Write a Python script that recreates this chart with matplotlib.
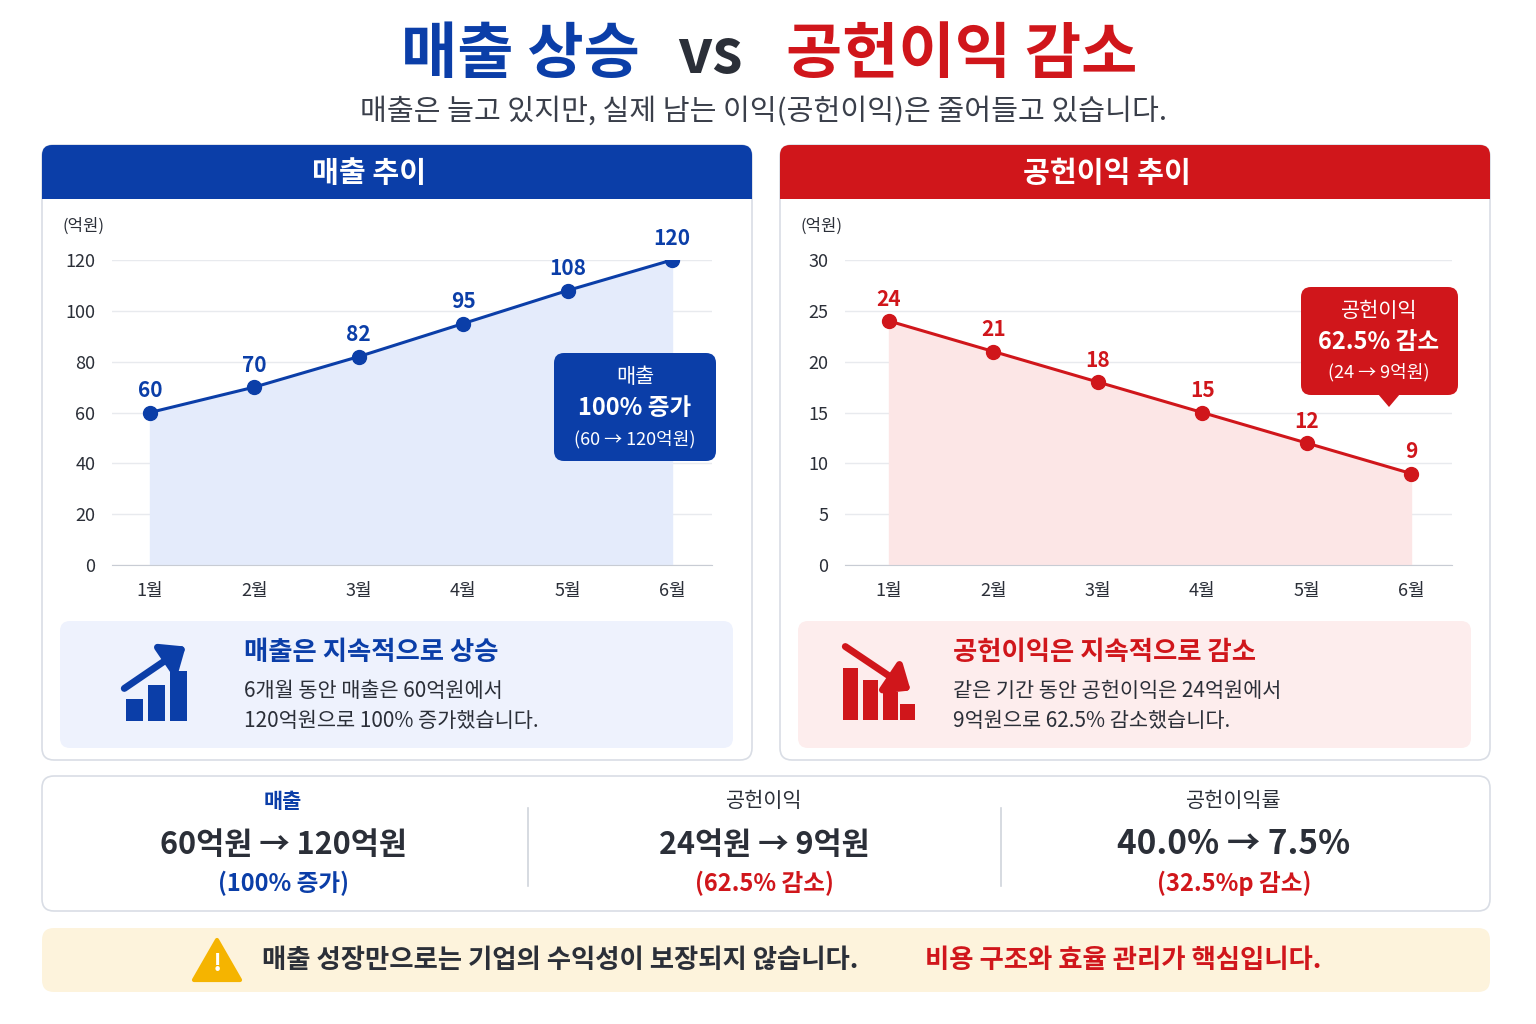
import matplotlib.pyplot as plt
from matplotlib.patches import FancyBboxPatch, Rectangle, Polygon, FancyArrowPatch

plt.rcParams['font.family'] = ['Noto Sans CJK KR', 'DejaVu Sans']

months = ['1월', '2월', '3월', '4월', '5월', '6월']
sales = [60, 70, 82, 95, 108, 120]
profit = [24, 21, 18, 15, 12, 9]
sales_ticks = [0, 20, 40, 60, 80, 100, 120]
profit_ticks = [0, 5, 10, 15, 20, 25, 30]

BLUE = '#0B3EA8'
RED = '#D0161B'
DARK = '#2B2F38'

W, H = 1536, 1024
fig = plt.figure(figsize=(15.36, 10.24), dpi=100)


def overlay():
    a = fig.add_axes([0, 0, 1, 1])
    a.set_xlim(0, W)
    a.set_ylim(H, 0)
    a.axis('off')
    a.patch.set_alpha(0)
    return a


bg = overlay()


def rbox(ax, x, y, w, h, fc, ec='none', r=12, lw=1.2, z=1):
    ax.add_patch(FancyBboxPatch((x, y), w, h, boxstyle=f"round,pad=0,rounding_size={r}",
                                fc=fc, ec=ec, lw=lw, zorder=z))


# title
bg.text(520, 55, '매출 상승', color=BLUE, fontsize=44, fontweight='bold', ha='center', va='center')
bg.text(710, 55, 'vs', color=DARK, fontsize=44, fontweight='bold', ha='center', va='center')
bg.text(962, 55, '공헌이익 감소', color=RED, fontsize=44, fontweight='bold', ha='center', va='center')
bg.text(764, 112, '매출은 늘고 있지만, 실제 남는 이익(공헌이익)은 줄어들고 있습니다.',
        color='#3a3f4a', fontsize=21, ha='center', va='center')

# panels
for x0, col, title in [(42, BLUE, '매출 추이'), (780, RED, '공헌이익 추이')]:
    rbox(bg, x0, 145, 710, 615, 'white', '#d9dde5', r=12)
    rbox(bg, x0, 145, 710, 54, col, r=10, z=2)
    bg.add_patch(Rectangle((x0, 180), 710, 19, fc=col, ec='none', zorder=2))
    bg.text(x0 + 327, 173, title, color='white', fontsize=21, fontweight='bold', ha='center', va='center', zorder=3)
    bg.text(x0 + 20, 226, '(억원)', color=DARK, fontsize=12, va='center')


def chart(left_px, right_px, first_px, data, ticks, col, fill):
    ax = fig.add_axes([left_px / W, 1 - 565 / H, (right_px - left_px) / W, 305 / H])
    x = list(range(1, 7))
    step = 104.4
    ax.set_xlim(1 - (first_px - left_px) / step, 1 + (right_px - first_px) / step)
    ax.set_ylim(0, ticks[-1])
    ax.fill_between(x, data, color=fill, zorder=1)
    ax.plot(x, data, color=col, lw=2.2, marker='o', ms=10, zorder=3)
    for xi, v in zip(x, data):
        ax.annotate(str(v), (xi, v), xytext=(0, 8), textcoords='offset points',
                    ha='center', va='bottom', color=col, fontsize=15, fontweight='bold')
    ax.set_yticks(ticks)
    ax.set_xticks(x)
    ax.set_xticklabels(months)
    ax.grid(axis='y', color='#e8eaee', lw=1)
    ax.set_axisbelow(True)
    for s in ['top', 'right', 'left']:
        ax.spines[s].set_visible(False)
    ax.spines['bottom'].set_color('#c8ccd4')
    ax.tick_params(length=0, labelsize=13, colors=DARK, pad=12)
    ax.patch.set_alpha(0)
    return ax


chart(112, 712, 150, sales, sales_ticks, BLUE, '#E4EBFB')
chart(845, 1452, 889, profit, profit_ticks, RED, '#FCE6E6')

top = overlay()

# callouts
rbox(top, 554, 353, 162, 108, BLUE, r=10, z=5)
top.text(635, 377, '매출', color='white', fontsize=15, ha='center', va='center', zorder=6)
top.text(635, 408, '100% 증가', color='white', fontsize=17, fontweight='bold', ha='center', va='center', zorder=6)
top.text(635, 439, '(60 → 120억원)', color='white', fontsize=13, ha='center', va='center', zorder=6)
rbox(top, 1301, 287, 157, 108, RED, r=10, z=5)
top.add_patch(Polygon([(1378, 394), (1400, 394), (1389, 407)], fc=RED, ec='none', zorder=5))
top.text(1379, 311, '공헌이익', color='white', fontsize=15, ha='center', va='center', zorder=6)
top.text(1379, 342, '62.5% 감소', color='white', fontsize=17, fontweight='bold', ha='center', va='center', zorder=6)
top.text(1379, 372, '(24 → 9억원)', color='white', fontsize=13, ha='center', va='center', zorder=6)

# summary boxes
rbox(top, 60, 621, 673, 127, '#EEF2FD', r=10)
rbox(top, 798, 621, 673, 127, '#FDEDED', r=10)
top.text(244, 652, '매출은 지속적으로 상승', color=BLUE, fontsize=19, fontweight='bold', va='center')
top.text(244, 691, '6개월 동안 매출은 60억원에서', color=DARK, fontsize=15, va='center')
top.text(244, 721, '120억원으로 100% 증가했습니다.', color=DARK, fontsize=15, va='center')
top.text(953, 652, '공헌이익은 지속적으로 감소', color=RED, fontsize=19, fontweight='bold', va='center')
top.text(953, 691, '같은 기간 동안 공헌이익은 24억원에서', color=DARK, fontsize=15, va='center')
top.text(953, 721, '9억원으로 62.5% 감소했습니다.', color=DARK, fontsize=15, va='center')

# icons
for bx, bh in [(126, 22), (148, 36), (170, 50)]:
    top.add_patch(Rectangle((bx, 721 - bh), 17, bh, fc=BLUE, ec='none'))
top.add_patch(FancyArrowPatch((122, 690), (188, 645), arrowstyle='-|>,head_length=6,head_width=5',
                              color=BLUE, lw=5, mutation_scale=2.2))
for bx, bh in [(843, 52), (863, 40), (883, 28), (900, 16)]:
    top.add_patch(Rectangle((bx, 720 - bh), 15, bh, fc=RED, ec='none'))
top.add_patch(FancyArrowPatch((843, 645), (913, 692), arrowstyle='-|>,head_length=6,head_width=5',
                              color=RED, lw=5, mutation_scale=2.2))

# stats row
rbox(top, 42, 776, 1448, 135, 'white', '#d9dde5', r=12)
top.plot([528, 528], [808, 886], color='#d0d4dc', lw=1.2)
top.plot([1001, 1001], [808, 886], color='#d0d4dc', lw=1.2)
top.text(283, 801, '매출', color=BLUE, fontsize=15, fontweight='bold', ha='center', va='center')
top.text(283, 845, '60억원 → 120억원', color=DARK, fontsize=22, fontweight='bold', ha='center', va='center')
top.text(283, 883, '(100% 증가)', color=BLUE, fontsize=17, fontweight='bold', ha='center', va='center')
top.text(764, 801, '공헌이익', color=DARK, fontsize=15, ha='center', va='center')
top.text(764, 845, '24억원 → 9억원', color=DARK, fontsize=22, fontweight='bold', ha='center', va='center')
top.text(764, 883, '(62.5% 감소)', color=RED, fontsize=17, fontweight='bold', ha='center', va='center')
top.text(1234, 801, '공헌이익률', color=DARK, fontsize=15, ha='center', va='center')
top.text(1234, 845, '40.0% → 7.5%', color=DARK, fontsize=24, fontweight='bold', ha='center', va='center')
top.text(1234, 883, '(32.5%p 감소)', color=RED, fontsize=17, fontweight='bold', ha='center', va='center')

# bottom banner
rbox(top, 42, 928, 1448, 64, '#FDF3DC', r=12)
top.add_patch(Polygon([(217, 940), (194, 980), (240, 980)], closed=True, fc='#F5B400', ec='#F5B400',
                      lw=3, joinstyle='round'))
top.text(217, 964, '!', color='white', fontsize=18, fontweight='bold', ha='center', va='center')
top.text(262, 960, '매출 성장만으로는 기업의 수익성이 보장되지 않습니다.', color=DARK, fontsize=19,
         fontweight='bold', va='center')
top.text(925, 960, '비용 구조와 효율 관리가 핵심입니다.', color=RED, fontsize=19, fontweight='bold', va='center')

fig.savefig('out.png', dpi=100, facecolor='white')
